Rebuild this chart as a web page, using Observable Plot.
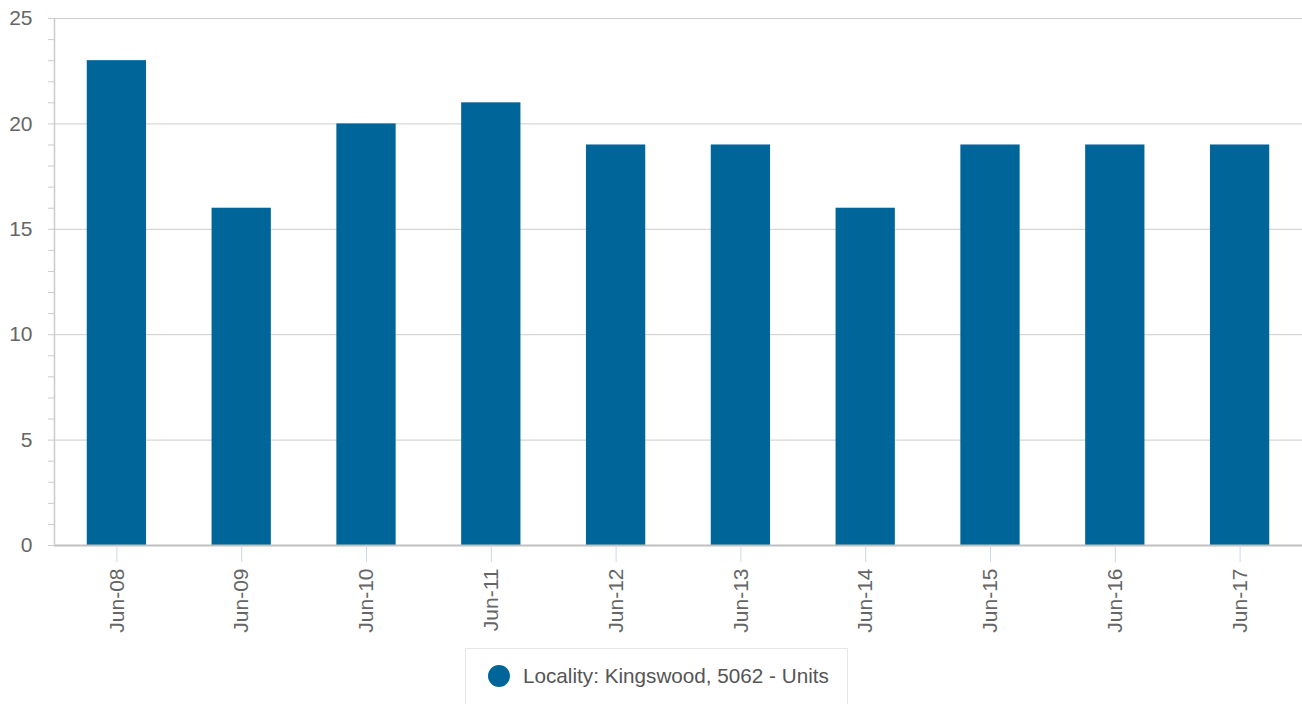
<!DOCTYPE html>
<html>
<head>
<meta charset="utf-8">
<script src="https://cdn.jsdelivr.net/npm/d3@7"></script>
<script src="https://cdn.jsdelivr.net/npm/@observablehq/plot@0.6"></script>
<style>
  html, body { margin: 0; padding: 0; background: #fff; }
  body { width: 1302px; height: 704px; overflow: hidden; font-family: "Liberation Sans", Arial, sans-serif; }
  #legend {
    position: absolute; left: 465px; top: 648px; width: 383px; height: 60px;
    border: 1px solid #e6e6e6; box-sizing: border-box; background: #fff;
    display: flex; align-items: center; padding-left: 22px; padding-bottom: 4px;
    font-size: 20.7px; color: #555;
  }
  #legend .dot { width: 22px; height: 22px; border-radius: 50%; background: #006699; margin-right: 13px; flex: none; }
</style>
</head>
<body>
<div id="chart"></div>
<div id="legend"><span class="dot"></span><span>Locality: Kingswood, 5062 - Units</span></div>
<script>
const categories = ["Jun-08","Jun-09","Jun-10","Jun-11","Jun-12","Jun-13","Jun-14","Jun-15","Jun-16","Jun-17"];
const values = [23, 16, 20, 21, 19, 19, 16, 19, 19, 19];
const majorTicks = [0, 5, 10, 15, 20, 25];
const minorTicks = d3.range(0, 26);

const data = categories.map((c, i) => ({cat: c, value: values[i]}));

const chart = Plot.plot({
  width: 1302,
  height: 640,
  marginLeft: 54,
  marginRight: 0,
  marginTop: 18,
  marginBottom: 95,
  style: {fontFamily: "'Liberation Sans', Arial, sans-serif", fontSize: "21px", background: "#fff"},
  x: {domain: categories, paddingInner: 0.525, paddingOuter: 0.2625, round: false, axis: null, label: null},
  y: {domain: [0, 25], axis: null, label: null},
  marks: [
    Plot.gridY({ticks: majorTicks, stroke: "#cccccc", strokeOpacity: 1}),
    Plot.axisY({ticks: minorTicks, tickSize: 6, tickFormat: () => "", stroke: "#cccccc", strokeOpacity: 1, label: null}),
    Plot.axisY({ticks: majorTicks, tickSize: 0, tickPadding: 22, fill: "#666", fontSize: 21, label: null}),
    Plot.barY(data, {x: "cat", y: "value", fill: "#006699"}),
    Plot.ruleY([0], {stroke: "#c0c0c0", strokeWidth: 2}),
    Plot.frame({anchor: "left", stroke: "#cccccc", strokeWidth: 1.5}),
    Plot.axisX({tickRotate: -90, tickSize: 17, tickPadding: 6, stroke: "#ccd6eb", strokeOpacity: 1, fill: "#666", fontSize: 21, label: null})
  ]
});
document.getElementById("chart").appendChild(chart);
</script>
</body>
</html>
